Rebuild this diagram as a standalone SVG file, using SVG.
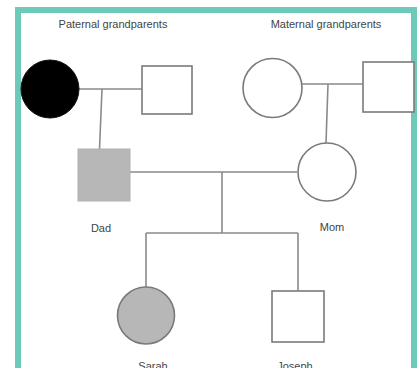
<svg xmlns="http://www.w3.org/2000/svg" width="417" height="368" viewBox="0 0 417 368">
<style>
.lbl{font-family:"Liberation Sans",Arial,sans-serif;font-size:11px;fill:#444;text-anchor:middle}
.ln{stroke:#8a8a8a;stroke-width:1.6;fill:none}
.sh{stroke:#7a7a7a;stroke-width:1.6}
</style>
<rect x="0" y="0" width="417" height="368" fill="#fff"/>
<rect x="18" y="10" width="396" height="380" fill="#fff" stroke="#6dcab8" stroke-width="6"/>
<g id="connectors">
<line class="ln" x1="79" y1="89" x2="142" y2="89"/>
<line class="ln" x1="102" y1="89" x2="99.5" y2="149"/>
<line class="ln" x1="302" y1="84" x2="363" y2="84"/>
<line class="ln" x1="328" y1="84" x2="326" y2="143"/>
<line class="ln" x1="130" y1="172" x2="297" y2="172"/>
<line class="ln" x1="222" y1="172" x2="222" y2="233"/>
<line class="ln" x1="146" y1="233" x2="298" y2="233"/>
<line class="ln" x1="146" y1="233" x2="146" y2="287"/>
<line class="ln" x1="298" y1="233" x2="298" y2="293"/>
</g>
<g id="label-paternal"><text class="lbl" x="113" y="28">Paternal grandparents</text></g>
<g id="label-maternal"><text class="lbl" x="326" y="28">Maternal grandparents</text></g>
<g id="pat-grandmother"><circle cx="50" cy="89" r="29" fill="#000" stroke="#111" stroke-width="1"/></g>
<g id="pat-grandfather"><rect class="sh" x="142" y="66" width="50" height="48" fill="#fff"/></g>
<g id="mat-grandmother"><circle class="sh" cx="272.5" cy="88" r="29.5" fill="#fff"/></g>
<g id="mat-grandfather"><rect class="sh" x="363" y="62" width="51" height="50" fill="#fff"/></g>
<g id="dad"><rect x="78" y="149" width="52" height="52" fill="#b7b7b7" stroke="#b0b0b0" stroke-width="1"/><text class="lbl" x="101" y="232">Dad</text></g>
<g id="mom"><circle class="sh" cx="327" cy="172" r="29" fill="#fff"/><text class="lbl" x="332" y="231">Mom</text></g>
<g id="sarah"><circle class="sh" cx="146" cy="315.5" r="28.5" fill="#b7b7b7"/><text class="lbl" x="153" y="370">Sarah</text></g>
<g id="joseph"><rect class="sh" x="272" y="291" width="52" height="51" fill="#fff"/><text class="lbl" x="295" y="370">Joseph</text></g>
</svg>
